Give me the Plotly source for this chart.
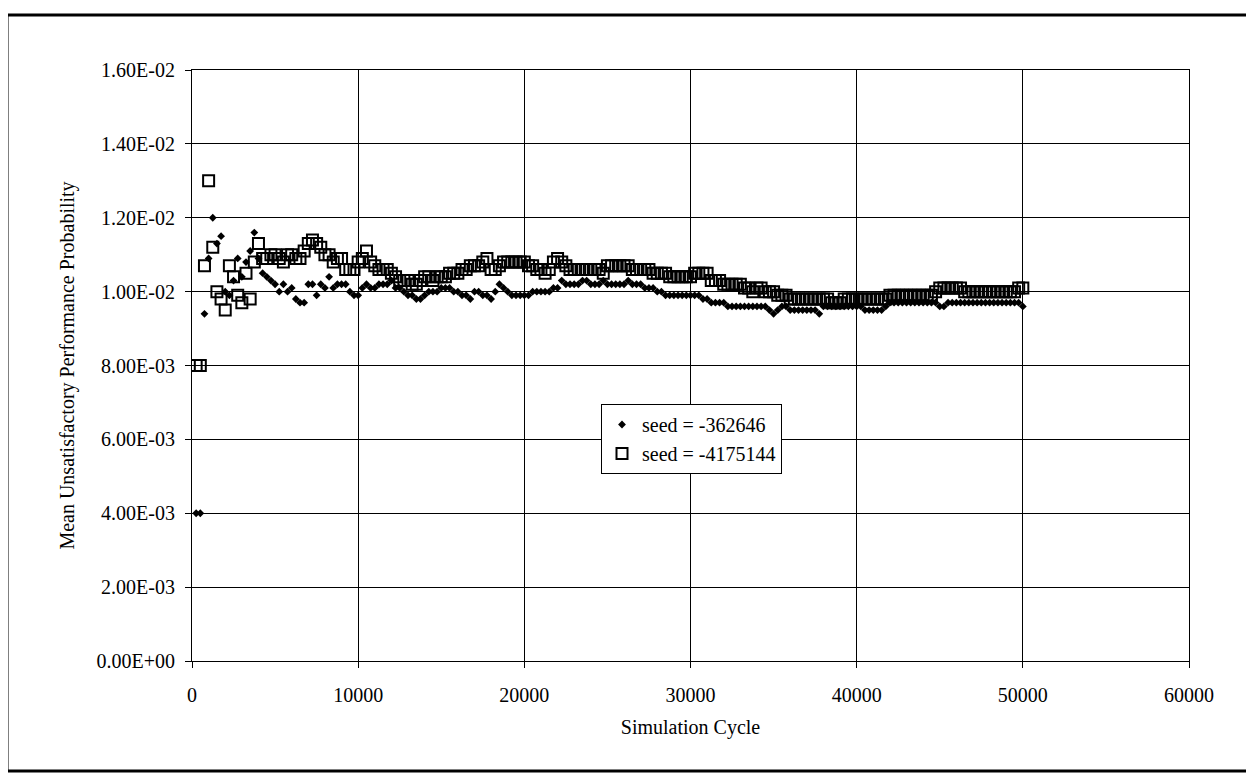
import plotly.graph_objects as go

# Simulation cycles (sampled every 250 cycles)
cycles = list(range(250, 50001, 250))

# seed = -362646 (small filled diamonds)
seed_362646 = [
    0.0040, 0.0040, 0.0094, 0.0109, 0.0120, 0.0113, 0.0115, 0.0100, 0.0099, 0.0103,
    0.0109, 0.0104, 0.0108, 0.0111, 0.0116, 0.0109, 0.0105, 0.0104, 0.0103, 0.0102,
    0.0100, 0.0102, 0.0100, 0.0101, 0.0098, 0.0097, 0.0097, 0.0102, 0.0102, 0.0099,
    0.0102, 0.0101, 0.0104, 0.0101, 0.0102, 0.0102, 0.0102, 0.0100, 0.0099, 0.0099,
    0.0101, 0.0102, 0.0101, 0.0101, 0.0102, 0.0102, 0.0102, 0.0103, 0.0101, 0.0101,
    0.0100, 0.0099, 0.0099, 0.0098, 0.0098, 0.0099, 0.0100, 0.0100, 0.0100, 0.0101,
    0.0101, 0.0101, 0.0100, 0.0100, 0.0099, 0.0099, 0.0098, 0.0100, 0.0100, 0.0099,
    0.0099, 0.0098, 0.0100, 0.0102, 0.0101, 0.0100, 0.0099, 0.0099, 0.0099, 0.0099,
    0.0099, 0.0100, 0.0100, 0.0100, 0.0100, 0.0100, 0.0101, 0.0101, 0.0103, 0.0102,
    0.0102, 0.0102, 0.0102, 0.0103, 0.0103, 0.0102, 0.0102, 0.0102, 0.0103, 0.0102,
    0.0102, 0.0102, 0.0102, 0.0102, 0.0103, 0.0102, 0.0102, 0.0102, 0.0101, 0.0101,
    0.0101, 0.0100, 0.0100, 0.0099, 0.0099, 0.0099, 0.0099, 0.0099, 0.0099, 0.0099,
    0.0099, 0.0099, 0.0098, 0.0098, 0.0097, 0.0097, 0.0097, 0.0097, 0.0096, 0.0096,
    0.0096, 0.0096, 0.0096, 0.0096, 0.0096, 0.0096, 0.0096, 0.0096, 0.0095, 0.0094,
    0.0095, 0.0096, 0.0096, 0.0095, 0.0095, 0.0095, 0.0095, 0.0095, 0.0095, 0.0095,
    0.0094, 0.0096, 0.0096, 0.0096, 0.0096, 0.0096, 0.0096, 0.0096, 0.0096, 0.0096,
    0.0096, 0.0095, 0.0095, 0.0095, 0.0095, 0.0095, 0.0096, 0.0097, 0.0097, 0.0097,
    0.0097, 0.0097, 0.0097, 0.0097, 0.0097, 0.0097, 0.0097, 0.0097, 0.0097, 0.0096,
    0.0096, 0.0097, 0.0097, 0.0097, 0.0097, 0.0097, 0.0097, 0.0097, 0.0097, 0.0097,
    0.0097, 0.0097, 0.0097, 0.0097, 0.0097, 0.0097, 0.0097, 0.0097, 0.0097, 0.0096,
]

# seed = -4175144 (open squares)
seed_4175144 = [
    0.0080, 0.0080, 0.0107, 0.0130, 0.0112, 0.0100, 0.0098, 0.0095, 0.0107, 0.0104,
    0.0099, 0.0097, 0.0105, 0.0098, 0.0108, 0.0113, 0.0109, 0.0109, 0.0110, 0.0110,
    0.0109, 0.0108, 0.0110, 0.0110, 0.0109, 0.0109, 0.0111, 0.0113, 0.0114, 0.0113,
    0.0112, 0.0110, 0.0110, 0.0108, 0.0109, 0.0109, 0.0106, 0.0106, 0.0106, 0.0108,
    0.0109, 0.0111, 0.0108, 0.0107, 0.0106, 0.0106, 0.0106, 0.0105, 0.0104, 0.0103,
    0.0103, 0.0103, 0.0102, 0.0102, 0.0103, 0.0104, 0.0104, 0.0103, 0.0104, 0.0104,
    0.0104, 0.0105, 0.0105, 0.0105, 0.0106, 0.0106, 0.0107, 0.0107, 0.0107, 0.0108,
    0.0109, 0.0106, 0.0106, 0.0107, 0.0108, 0.0108, 0.0108, 0.0108, 0.0108, 0.0108,
    0.0107, 0.0107, 0.0106, 0.0106, 0.0105, 0.0106, 0.0108, 0.0109, 0.0108, 0.0107,
    0.0106, 0.0106, 0.0106, 0.0106, 0.0106, 0.0106, 0.0106, 0.0106, 0.0105, 0.0107,
    0.0107, 0.0107, 0.0107, 0.0107, 0.0107, 0.0106, 0.0106, 0.0106, 0.0106, 0.0106,
    0.0105, 0.0105, 0.0105, 0.0105, 0.0104, 0.0104, 0.0104, 0.0104, 0.0104, 0.0104,
    0.0105, 0.0105, 0.0105, 0.0105, 0.0103, 0.0103, 0.0103, 0.0102, 0.0102, 0.0102,
    0.0102, 0.0102, 0.0101, 0.0101, 0.0100, 0.0101, 0.0101, 0.0100, 0.0100, 0.0100,
    0.0099, 0.0099, 0.0099, 0.0098, 0.0098, 0.0098, 0.0098, 0.0098, 0.0098, 0.0098,
    0.0098, 0.0098, 0.0098, 0.0097, 0.0097, 0.0097, 0.0098, 0.0098, 0.0098, 0.0098,
    0.0098, 0.0098, 0.0098, 0.0098, 0.0098, 0.0098, 0.0098, 0.0099, 0.0099, 0.0099,
    0.0099, 0.0099, 0.0099, 0.0099, 0.0099, 0.0099, 0.0099, 0.0099, 0.0100, 0.0101,
    0.0101, 0.0101, 0.0101, 0.0101, 0.0101, 0.0100, 0.0100, 0.0100, 0.0100, 0.0100,
    0.0100, 0.0100, 0.0100, 0.0100, 0.0100, 0.0100, 0.0100, 0.0100, 0.0101, 0.0101,
]

series_names = ["seed = -362646", "seed = -4175144"]

x_tickvals = [0, 10000, 20000, 30000, 40000, 50000, 60000]
x_ticktext = ["0", "10000", "20000", "30000", "40000", "50000", "60000"]
y_tickvals = [0, 0.002, 0.004, 0.006, 0.008, 0.010, 0.012, 0.014, 0.016]
y_ticktext = ["0.00E+00", "2.00E-03", "4.00E-03", "6.00E-03", "8.00E-03",
              "1.00E-02", "1.20E-02", "1.40E-02", "1.60E-02"]

FONT = "Liberation Serif"

fig = go.Figure()
fig.add_trace(go.Scatter(
    x=cycles, y=seed_362646, mode="markers", name=series_names[0],
    marker=dict(symbol="diamond", size=6, color="black"),
))
fig.add_trace(go.Scatter(
    x=cycles, y=seed_4175144, mode="markers", name=series_names[1],
    marker=dict(symbol="square-open", size=11, color="black", line=dict(width=2, color="black")),
))

# page body has an 8px margin; figure fits inside the 1254x776 window
OFF = 8
W, H = 1254 - OFF, 776 - OFF
L, R, T, B = 192 - OFF, 65, 70 - OFF, 115
pw, ph = W - L - R, H - T - B

def px_x(px):
    return (px - OFF - L) / pw

def px_y(py):
    return (H - B - (py - OFF)) / ph

fig.update_layout(
    width=W, height=H,
    margin=dict(l=L, r=R, t=T, b=B),
    paper_bgcolor="white", plot_bgcolor="white",
    font=dict(family=FONT, size=20, color="black"),
    showlegend=True,
    legend=dict(
        x=px_x(601), y=px_y(404), xanchor="left", yanchor="top",
        bgcolor="white", bordercolor="black", borderwidth=1,
        font=dict(family=FONT, size=20, color="black"),
        itemwidth=30, tracegroupgap=0,
    ),
    xaxis=dict(
        range=[0, 60000], tickvals=x_tickvals, ticktext=x_ticktext,
        showgrid=True, gridcolor="black", gridwidth=1,
        showline=True, linecolor="black", linewidth=1, mirror=True,
        ticks="outside", ticklen=6, tickcolor="black",
        ticklabelstandoff=10, zeroline=False,
        title=dict(text="Simulation Cycle", standoff=14,
                   font=dict(family=FONT, size=20)),
    ),
    yaxis=dict(
        range=[0, 0.016], tickvals=y_tickvals, ticktext=y_ticktext,
        showgrid=True, gridcolor="black", gridwidth=1,
        showline=True, linecolor="black", linewidth=1, mirror=True,
        ticks="outside", ticklen=6, tickcolor="black",
        ticklabelstandoff=6, zeroline=False,
        title=dict(text="Mean Unsatisfactory Performance Probability", standoff=16,
                   font=dict(family=FONT, size=20)),
    ),
    shapes=[dict(
        type="rect", xref="paper", yref="paper",
        x0=px_x(7), x1=px_x(1265), y0=px_y(771), y1=px_y(15),
        line=dict(color="black", width=3), fillcolor="rgba(0,0,0,0)", layer="below",
    )],
)

fig.write_html("out.html")
